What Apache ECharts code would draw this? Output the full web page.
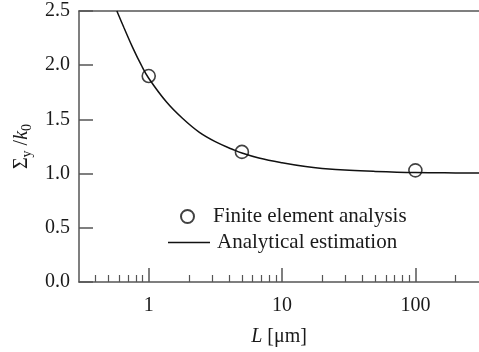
<!DOCTYPE html>
<html>
<head>
<meta charset="utf-8">
<script src="https://cdn.jsdelivr.net/npm/echarts@6/dist/echarts.min.js"></script>
<style>html,body{margin:0;padding:0;background:#fff}#c{width:479px;height:352px}</style>
</head>
<body>
<div id="c"></div>
<script>
var feL = [1, 5, 100];
var feY = [1.90, 1.20, 1.03];
var curveL = [0.577, 0.65, 0.76, 0.88, 1, 1.36, 1.79, 2.4, 3.21, 4.24, 5, 6.7, 10, 15, 20, 32, 50, 100, 200, 300];
var curveY = [2.50, 2.35, 2.16, 2.00, 1.88, 1.66, 1.51, 1.38, 1.29, 1.225, 1.19, 1.144, 1.10, 1.065, 1.048, 1.03, 1.02, 1.01, 1.006, 1.005];
var majorTicks = [1, 10, 100];
var minorTicks = [0.4, 0.5, 0.6, 0.7, 0.8, 0.9, 2, 3, 4, 5, 6, 7, 8, 9, 20, 30, 40, 50, 60, 70, 80, 90, 200];

var font = 'Liberation Serif';
var axisColor = '#555';
var txt = '#1a1a1a';
var chart = echarts.init(document.getElementById('c'));
var base = {type: 'log', logBase: 10, min: 0.3, max: 300, gridIndex: 0};
chart.setOption({
  animation: false,
  grid: {left: 79, top: 11, width: 402, height: 271},
  legend: [
    {data: ['Finite element analysis'], left: 180, top: 206, padding: 0, itemWidth: 13, itemHeight: 13,
     textStyle: {fontFamily: font, fontSize: 21, color: txt, padding: [0, 0, 0, 14]}},
    {data: [{name: 'Analytical estimation', icon: 'rect'}], left: 168, top: 232, padding: 0, itemWidth: 42, itemHeight: 1.6,
     itemStyle: {color: '#111', borderWidth: 0},
     textStyle: {fontFamily: font, fontSize: 21, color: txt, padding: [0, 0, 0, 2]}}
  ],
  xAxis: [
    Object.assign({}, base, {
      position: 'bottom',
      axisLine: {show: true, lineStyle: {color: axisColor, width: 1.5}},
      axisTick: {show: true, inside: true, length: 14, customValues: majorTicks, lineStyle: {color: axisColor, width: 1.5}},
      axisLabel: {show: true, customValues: majorTicks, margin: 14, fontFamily: font, fontSize: 20, color: txt,
        formatter: function (v) { return String(v); }},
      splitLine: {show: false},
      name: '{i|L} [μm]', nameLocation: 'middle', nameGap: 45,
      nameTextStyle: {fontFamily: font, fontSize: 20, color: txt, rich: {i: {fontFamily: font, fontSize: 20, fontStyle: 'italic', color: txt}}}
    }),
    Object.assign({}, base, {
      position: 'bottom',
      axisLine: {show: false},
      axisTick: {show: true, inside: true, length: 7, customValues: minorTicks, lineStyle: {color: axisColor, width: 1.2}},
      axisLabel: {show: false},
      splitLine: {show: false}
    }),
    Object.assign({}, base, {
      position: 'top',
      axisLine: {show: true, lineStyle: {color: axisColor, width: 1.5}},
      axisTick: {show: false},
      axisLabel: {show: false},
      splitLine: {show: false}
    })
  ],
  yAxis: {
    type: 'value', min: 0, max: 2.5, interval: 0.5,
    axisLine: {show: true, lineStyle: {color: axisColor, width: 1.5}},
    axisTick: {show: true, inside: true, length: 14, lineStyle: {color: axisColor, width: 1.5}},
    axisLabel: {margin: 9, fontFamily: font, fontSize: 20, color: txt, formatter: function (v) { return v.toFixed(1); }},
    splitLine: {show: false},
    name: '{n|Σ}{s|y}{n| /}{k|k}{s|0}', nameLocation: 'middle', nameGap: 44, nameRotate: 90,
    nameTextStyle: {fontFamily: font, fontSize: 20, color: txt,
      rich: {
        n: {fontFamily: font, fontSize: 20, color: txt, lineHeight: 22},
        k: {fontFamily: font, fontSize: 20, fontStyle: 'italic', color: txt, lineHeight: 22},
        s: {fontFamily: font, fontSize: 14, color: txt, lineHeight: 14, padding: [11, 0, 0, 0]}
      }}
  },
  series: [
    {
      name: 'Finite element analysis', type: 'scatter', xAxisIndex: 0,
      data: feL.map(function (l, i) { return [l, feY[i]]; }),
      symbol: 'circle', symbolSize: 13, z: 3,
      itemStyle: {color: 'rgba(255,255,255,0)', borderColor: '#111', borderWidth: 1.6}
    },
    {
      name: 'Analytical estimation', type: 'line', xAxisIndex: 0,
      data: curveL.map(function (l, i) { return [l, curveY[i]]; }),
      smooth: 0.4, showSymbol: false, symbol: 'none', z: 2,
      lineStyle: {color: '#111', width: 1.5},
      itemStyle: {color: '#111'}
    }
  ]
});
</script>
</body>
</html>
